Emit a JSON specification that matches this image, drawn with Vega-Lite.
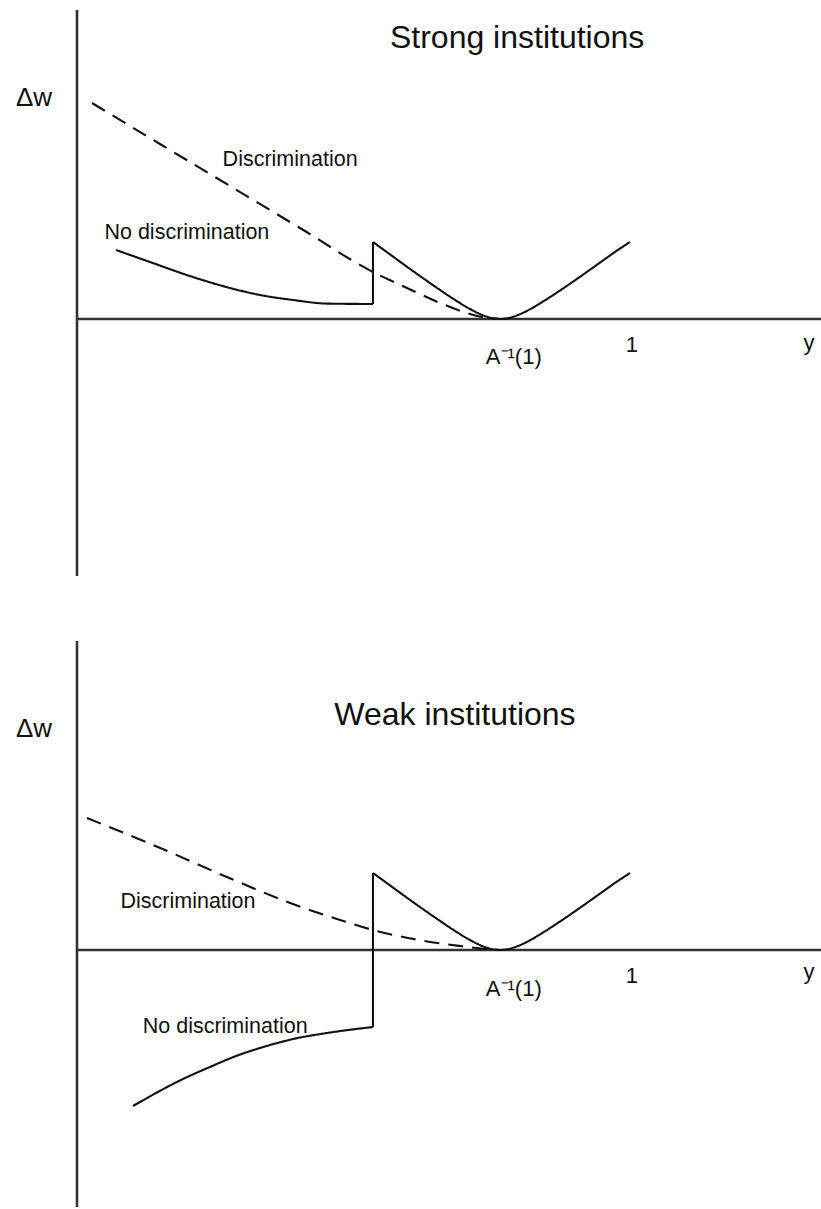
{
  "$schema": "https://vega.github.io/schema/vega-lite/v6.json",
  "background": "white",
  "padding": 0,
  "spacing": 0,
  "bounds": "flush",
  "config": {"view": {"stroke": null}, "text": {"font": "Liberation Sans", "color": "#111"}},
  "datasets": {
    "strong_curves": [
      {"series": "Discrimination", "seg": "disc", "ord": 1, "y_val": 0.027, "delta_w": 2.805},
      {"series": "Discrimination", "seg": "disc", "ord": 2, "y_val": 0.1495, "delta_w": 2.273},
      {"series": "Discrimination", "seg": "disc", "ord": 3, "y_val": 0.2757, "delta_w": 1.727},
      {"series": "Discrimination", "seg": "disc", "ord": 4, "y_val": 0.4018, "delta_w": 1.182},
      {"series": "Discrimination", "seg": "disc", "ord": 5, "y_val": 0.5333, "delta_w": 0.61},
      {"series": "Discrimination", "seg": "disc", "ord": 6, "y_val": 0.5946, "delta_w": 0.403},
      {"series": "Discrimination", "seg": "disc", "ord": 7, "y_val": 0.6541, "delta_w": 0.208},
      {"series": "Discrimination", "seg": "disc", "ord": 8, "y_val": 0.7081, "delta_w": 0.065},
      {"series": "Discrimination", "seg": "disc", "ord": 9, "y_val": 0.7351, "delta_w": 0.019},
      {"series": "Discrimination", "seg": "disc", "ord": 10, "y_val": 0.7622, "delta_w": 0},
      {"series": "No discrimination", "seg": "nd_left", "ord": 1, "y_val": 0.0703, "delta_w": 0.896},
      {"series": "No discrimination", "seg": "nd_left", "ord": 2, "y_val": 0.1315, "delta_w": 0.74},
      {"series": "No discrimination", "seg": "nd_left", "ord": 3, "y_val": 0.209, "delta_w": 0.545},
      {"series": "No discrimination", "seg": "nd_left", "ord": 4, "y_val": 0.2757, "delta_w": 0.403},
      {"series": "No discrimination", "seg": "nd_left", "ord": 5, "y_val": 0.3297, "delta_w": 0.312},
      {"series": "No discrimination", "seg": "nd_left", "ord": 6, "y_val": 0.3892, "delta_w": 0.247},
      {"series": "No discrimination", "seg": "nd_left", "ord": 7, "y_val": 0.4505, "delta_w": 0.2},
      {"series": "No discrimination", "seg": "nd_left", "ord": 8, "y_val": 0.5333, "delta_w": 0.195},
      {"series": "No discrimination", "seg": "nd_jump", "ord": 1, "y_val": 0.5333, "delta_w": 0.195},
      {"series": "No discrimination", "seg": "nd_jump", "ord": 2, "y_val": 0.5333, "delta_w": 1.0},
      {"series": "No discrimination", "seg": "nd_right", "ord": 1, "y_val": 0.5333, "delta_w": 1.0},
      {"series": "No discrimination", "seg": "nd_right", "ord": 2, "y_val": 0.564, "delta_w": 0.839},
      {"series": "No discrimination", "seg": "nd_right", "ord": 3, "y_val": 0.591, "delta_w": 0.697},
      {"series": "No discrimination", "seg": "nd_right", "ord": 4, "y_val": 0.618, "delta_w": 0.558},
      {"series": "No discrimination", "seg": "nd_right", "ord": 5, "y_val": 0.6541, "delta_w": 0.377},
      {"series": "No discrimination", "seg": "nd_right", "ord": 6, "y_val": 0.6811, "delta_w": 0.247},
      {"series": "No discrimination", "seg": "nd_right", "ord": 7, "y_val": 0.7081, "delta_w": 0.13},
      {"series": "No discrimination", "seg": "nd_right", "ord": 8, "y_val": 0.7297, "delta_w": 0.053},
      {"series": "No discrimination", "seg": "nd_right", "ord": 9, "y_val": 0.7477, "delta_w": 0.012},
      {"series": "No discrimination", "seg": "nd_right", "ord": 10, "y_val": 0.7622, "delta_w": 0},
      {"series": "No discrimination", "seg": "nd_right", "ord": 11, "y_val": 0.7766, "delta_w": 0.011},
      {"series": "No discrimination", "seg": "nd_right", "ord": 12, "y_val": 0.7946, "delta_w": 0.052},
      {"series": "No discrimination", "seg": "nd_right", "ord": 13, "y_val": 0.8162, "delta_w": 0.126},
      {"series": "No discrimination", "seg": "nd_right", "ord": 14, "y_val": 0.8432, "delta_w": 0.243},
      {"series": "No discrimination", "seg": "nd_right", "ord": 15, "y_val": 0.8703, "delta_w": 0.37},
      {"series": "No discrimination", "seg": "nd_right", "ord": 16, "y_val": 0.9063, "delta_w": 0.548},
      {"series": "No discrimination", "seg": "nd_right", "ord": 17, "y_val": 0.9423, "delta_w": 0.732},
      {"series": "No discrimination", "seg": "nd_right", "ord": 18, "y_val": 0.9694, "delta_w": 0.871},
      {"series": "No discrimination", "seg": "nd_right", "ord": 19, "y_val": 0.9964, "delta_w": 1.0}
    ],
    "weak_curves": [
      {"series": "Discrimination", "seg": "disc", "ord": 1, "y_val": 0.018, "delta_w": 1.714},
      {"series": "Discrimination", "seg": "disc", "ord": 2, "y_val": 0.15, "delta_w": 1.325},
      {"series": "Discrimination", "seg": "disc", "ord": 3, "y_val": 0.27, "delta_w": 0.948},
      {"series": "Discrimination", "seg": "disc", "ord": 4, "y_val": 0.389, "delta_w": 0.597},
      {"series": "Discrimination", "seg": "disc", "ord": 5, "y_val": 0.474, "delta_w": 0.39},
      {"series": "Discrimination", "seg": "disc", "ord": 6, "y_val": 0.533, "delta_w": 0.26},
      {"series": "Discrimination", "seg": "disc", "ord": 7, "y_val": 0.616, "delta_w": 0.13},
      {"series": "Discrimination", "seg": "disc", "ord": 8, "y_val": 0.69, "delta_w": 0.052},
      {"series": "Discrimination", "seg": "disc", "ord": 9, "y_val": 0.735, "delta_w": 0.013},
      {"series": "Discrimination", "seg": "disc", "ord": 10, "y_val": 0.7622, "delta_w": 0},
      {"series": "No discrimination", "seg": "nd_left", "ord": 1, "y_val": 0.1009, "delta_w": -2.026},
      {"series": "No discrimination", "seg": "nd_left", "ord": 2, "y_val": 0.191, "delta_w": -1.675},
      {"series": "No discrimination", "seg": "nd_left", "ord": 3, "y_val": 0.2396, "delta_w": -1.519},
      {"series": "No discrimination", "seg": "nd_left", "ord": 4, "y_val": 0.2865, "delta_w": -1.377},
      {"series": "No discrimination", "seg": "nd_left", "ord": 5, "y_val": 0.3297, "delta_w": -1.273},
      {"series": "No discrimination", "seg": "nd_left", "ord": 6, "y_val": 0.3892, "delta_w": -1.156},
      {"series": "No discrimination", "seg": "nd_left", "ord": 7, "y_val": 0.4505, "delta_w": -1.078},
      {"series": "No discrimination", "seg": "nd_left", "ord": 8, "y_val": 0.5333, "delta_w": -1.0},
      {"series": "No discrimination", "seg": "nd_jump", "ord": 1, "y_val": 0.5333, "delta_w": -1.0},
      {"series": "No discrimination", "seg": "nd_jump", "ord": 2, "y_val": 0.5333, "delta_w": 1.0},
      {"series": "No discrimination", "seg": "nd_right", "ord": 1, "y_val": 0.5333, "delta_w": 1.0},
      {"series": "No discrimination", "seg": "nd_right", "ord": 2, "y_val": 0.564, "delta_w": 0.839},
      {"series": "No discrimination", "seg": "nd_right", "ord": 3, "y_val": 0.591, "delta_w": 0.697},
      {"series": "No discrimination", "seg": "nd_right", "ord": 4, "y_val": 0.618, "delta_w": 0.558},
      {"series": "No discrimination", "seg": "nd_right", "ord": 5, "y_val": 0.6541, "delta_w": 0.377},
      {"series": "No discrimination", "seg": "nd_right", "ord": 6, "y_val": 0.6811, "delta_w": 0.247},
      {"series": "No discrimination", "seg": "nd_right", "ord": 7, "y_val": 0.7081, "delta_w": 0.13},
      {"series": "No discrimination", "seg": "nd_right", "ord": 8, "y_val": 0.7297, "delta_w": 0.053},
      {"series": "No discrimination", "seg": "nd_right", "ord": 9, "y_val": 0.7477, "delta_w": 0.012},
      {"series": "No discrimination", "seg": "nd_right", "ord": 10, "y_val": 0.7622, "delta_w": 0},
      {"series": "No discrimination", "seg": "nd_right", "ord": 11, "y_val": 0.7766, "delta_w": 0.011},
      {"series": "No discrimination", "seg": "nd_right", "ord": 12, "y_val": 0.7946, "delta_w": 0.052},
      {"series": "No discrimination", "seg": "nd_right", "ord": 13, "y_val": 0.8162, "delta_w": 0.126},
      {"series": "No discrimination", "seg": "nd_right", "ord": 14, "y_val": 0.8432, "delta_w": 0.243},
      {"series": "No discrimination", "seg": "nd_right", "ord": 15, "y_val": 0.8703, "delta_w": 0.37},
      {"series": "No discrimination", "seg": "nd_right", "ord": 16, "y_val": 0.9063, "delta_w": 0.548},
      {"series": "No discrimination", "seg": "nd_right", "ord": 17, "y_val": 0.9423, "delta_w": 0.732},
      {"series": "No discrimination", "seg": "nd_right", "ord": 18, "y_val": 0.9694, "delta_w": 0.871},
      {"series": "No discrimination", "seg": "nd_right", "ord": 19, "y_val": 0.9964, "delta_w": 1.0}
    ],
    "axes_lines": [
      {"y_val": 0, "y_val_end": 0, "delta_w": -3.338, "delta_w_end": 4.013},
      {"y_val": 0, "y_val_end": 1.3405, "delta_w": 0, "delta_w_end": 0}
    ],
    "strong_titles": [{"label": "Strong institutions", "y_val": 0.793, "delta_w": 3.649}],
    "weak_titles": [{"label": "Weak institutions", "y_val": 0.681, "delta_w": 3.052}],
    "dw_label": [{"label": "Δw", "y_val": -0.0775, "delta_w": 2.87}],
    "strong_curve_labels": [
      {"label": "Discrimination", "y_val": 0.384, "delta_w": 2.065},
      {"label": "No discrimination", "y_val": 0.198, "delta_w": 1.117}
    ],
    "weak_curve_labels": [
      {"label": "Discrimination", "y_val": 0.2, "delta_w": 0.623},
      {"label": "No discrimination", "y_val": 0.267, "delta_w": -1.0}
    ],
    "strong_ticks": [
      {"label": "A⁻¹(1)", "y_val": 0.787, "delta_w": -0.494},
      {"label": "1", "y_val": 1.0, "delta_w": -0.338},
      {"label": "y", "y_val": 1.319, "delta_w": -0.312}
    ],
    "weak_ticks": [
      {"label": "A⁻¹(1)", "y_val": 0.787, "delta_w": -0.506},
      {"label": "1", "y_val": 1.0, "delta_w": -0.338},
      {"label": "y", "y_val": 1.319, "delta_w": -0.286}
    ]
  },
  "vconcat": [
    {
      "width": 821,
      "height": 632,
      "encoding": {
        "x": {"field": "y_val", "type": "quantitative", "scale": {"domain": [-0.138739, 1.340541], "nice": false, "zero": false}, "axis": null},
        "y": {"field": "delta_w", "type": "quantitative", "scale": {"domain": [-4.0649, 4.1429], "nice": false, "zero": false}, "axis": null}
      },
      "layer": [
        {
          "data": {"name": "axes_lines"},
          "mark": {"type": "rule", "color": "#333", "strokeWidth": 2.6},
          "encoding": {"x2": {"field": "y_val_end"}, "y2": {"field": "delta_w_end"}}
        },
        {
          "data": {"name": "strong_curves"},
          "mark": {"type": "line", "color": "#111", "strokeWidth": 2.1, "interpolate": "monotone"},
          "encoding": {
            "detail": {"field": "seg"},
            "order": {"field": "ord", "type": "quantitative"},
            "strokeDash": {"field": "series", "type": "nominal", "scale": {"domain": ["Discrimination", "No discrimination"], "range": [[15, 9], [1, 0]]}, "legend": null}
          }
        },
        {
          "data": {"name": "strong_titles"},
          "mark": {"type": "text", "fontSize": 32, "align": "center", "baseline": "middle"},
          "encoding": {"text": {"field": "label"}}
        },
        {
          "data": {"name": "dw_label"},
          "mark": {"type": "text", "fontSize": 26, "align": "center", "baseline": "middle"},
          "encoding": {"text": {"field": "label"}}
        },
        {
          "data": {"name": "strong_curve_labels"},
          "mark": {"type": "text", "fontSize": 21.5, "align": "center", "baseline": "middle"},
          "encoding": {"text": {"field": "label"}}
        },
        {
          "data": {"name": "strong_ticks"},
          "mark": {"type": "text", "fontSize": 22, "align": "center", "baseline": "middle"},
          "encoding": {"text": {"field": "label"}}
        }
      ]
    },
    {
      "width": 821,
      "height": 577,
      "encoding": {
        "x": {"field": "y_val", "type": "quantitative", "scale": {"domain": [-0.138739, 1.340541], "nice": false, "zero": false}, "axis": null},
        "y": {"field": "delta_w", "type": "quantitative", "scale": {"domain": [-3.3636, 4.1299], "nice": false, "zero": false}, "axis": null}
      },
      "layer": [
        {
          "data": {"name": "axes_lines"},
          "mark": {"type": "rule", "color": "#333", "strokeWidth": 2.6},
          "encoding": {"x2": {"field": "y_val_end"}, "y2": {"field": "delta_w_end"}}
        },
        {
          "data": {"name": "weak_curves"},
          "mark": {"type": "line", "color": "#111", "strokeWidth": 2.1, "interpolate": "monotone"},
          "encoding": {
            "detail": {"field": "seg"},
            "order": {"field": "ord", "type": "quantitative"},
            "strokeDash": {"field": "series", "type": "nominal", "scale": {"domain": ["Discrimination", "No discrimination"], "range": [[15, 9], [1, 0]]}, "legend": null}
          }
        },
        {
          "data": {"name": "weak_titles"},
          "mark": {"type": "text", "fontSize": 32, "align": "center", "baseline": "middle"},
          "encoding": {"text": {"field": "label"}}
        },
        {
          "data": {"name": "dw_label"},
          "mark": {"type": "text", "fontSize": 26, "align": "center", "baseline": "middle"},
          "encoding": {"text": {"field": "label"}}
        },
        {
          "data": {"name": "weak_curve_labels"},
          "mark": {"type": "text", "fontSize": 21.5, "align": "center", "baseline": "middle"},
          "encoding": {"text": {"field": "label"}}
        },
        {
          "data": {"name": "weak_ticks"},
          "mark": {"type": "text", "fontSize": 22, "align": "center", "baseline": "middle"},
          "encoding": {"text": {"field": "label"}}
        }
      ]
    }
  ]
}
